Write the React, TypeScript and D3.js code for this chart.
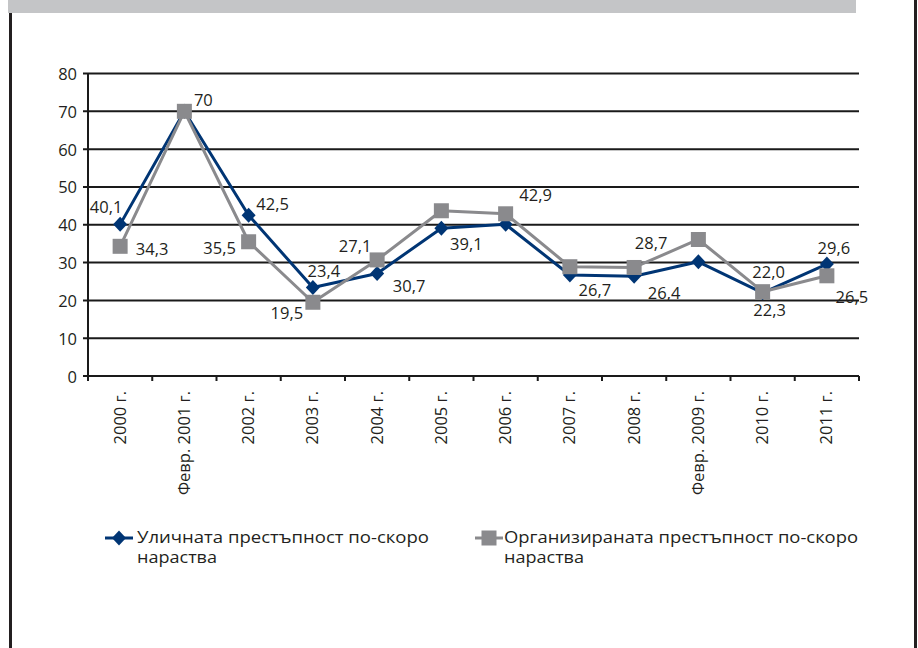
import React from "react";
import * as d3 from "d3";

const categories = [
  "2000 г.", "Февр. 2001 г.", "2002 г.", "2003 г.", "2004 г.", "2005 г.",
  "2006 г.", "2007 г.", "2008 г.", "Февр. 2009 г.", "2010 г.", "2011 г.",
];
const streetCrime = [40.1, 70, 42.5, 23.4, 27.1, 39.1, 40.1, 26.7, 26.4, 30.2, 22.0, 29.6];
const organizedCrime = [34.3, 70, 35.5, 19.5, 30.7, 43.7, 42.9, 28.9, 28.7, 36.1, 22.3, 26.5];
const streetLabels = ["40,1", "70", "42,5", "23,4", "27,1", "39,1", null, "26,7", "26,4", null, "22,0", "29,6"];
const organizedLabels = ["34,3", null, "35,5", "19,5", "30,7", null, "42,9", null, "28,7", null, "22,3", "26,5"];
const yTicks = [0, 10, 20, 30, 40, 50, 60, 70, 80];
const seriesNames = ["Уличната престъпност по-скоро", "Организираната престъпност по-скоро"];
const legendSecondLine = "нараства";

// label placement offsets (dx, dy) relative to the point
const streetLabelOffsets: [number, number][] = [
  [-14, -18], [19, -12], [24, -12], [11, -17], [-22, -28], [25, 15],
  [0, 0], [25, 14], [30, 16], [0, 0], [6, -21], [7, -17],
];
const organizedLabelOffsets: [number, number][] = [
  [32, 2], [0, 0], [-29, 6], [-26, 10], [32, 26], [0, 0],
  [30, -19], [0, 0], [17, -25], [0, 0], [7, 18], [25, 21],
];

const W = 918;
const H = 648;
const FONT = "'Open Sans', 'DejaVu Sans', sans-serif";
const TEXT = "#231f20";
const BLUE = "#003574";
const GRAY = "#8a8a8d";

export default function App() {
  const left = 88;
  const right = 859;
  const top = 73.5;
  const bottom = 376;

  const x = d3.scaleBand<string>().domain(categories).range([left, right]).padding(0);
  const y = d3.scaleLinear().domain([0, 80]).range([bottom, top]);
  const cx = (i: number) => (x(categories[i]) as number) + x.bandwidth() / 2;

  const line = d3
    .line<number>()
    .x((_, i) => cx(i))
    .y((d) => y(d));

  const boundaries = categories.map((c) => x(c) as number).concat([right]);

  const diamond = (px: number, py: number) =>
    `M${px},${py - 7.5} L${px + 7},${py} L${px},${py + 7.5} L${px - 7},${py} Z`;

  return (
    <svg
      width={W}
      height={H}
      style={{ position: "absolute", left: 0, top: 0, background: "#fff" }}
      fontFamily={FONT}
    >
      {/* frame */}
      <rect x={8} y={0} width={848} height={13} fill="#c4c5c7" />
      <line x1={10.5} y1={13} x2={10.5} y2={H} stroke="#231f20" strokeWidth={3} />
      <line x1={915.5} y1={0} x2={915.5} y2={H} stroke="#231f20" strokeWidth={3} />

      {/* gridlines */}
      {yTicks.map((t) => (
        <g key={t}>
          <line x1={left - 5} x2={right} y1={y(t)} y2={y(t)} stroke="#1a1a1a" strokeWidth={2} />
          <text
            x={77}
            y={y(t)}
            textAnchor="end"
            dominantBaseline="central"
            fontSize={16.5}
            fill={TEXT}
          >
            {t}
          </text>
        </g>
      ))}
      <line x1={left} x2={left} y1={top} y2={bottom} stroke="#1a1a1a" strokeWidth={2} />
      {boundaries.map((b, i) => (
        <line key={i} x1={b} x2={b} y1={bottom} y2={bottom + 5} stroke="#1a1a1a" strokeWidth={2} />
      ))}

      {/* x labels */}
      {categories.map((c, i) => (
        <text
          key={c}
          transform={`translate(${cx(i) - 1},${391}) rotate(-90)`}
          textAnchor="end"
          dominantBaseline="central"
          fontSize={16.5}
          fill={TEXT}
        >
          {c}
        </text>
      ))}

      {/* street crime series */}
      <path d={line(streetCrime) || ""} fill="none" stroke={BLUE} strokeWidth={3} strokeLinejoin="round" />
      {streetCrime.map((v, i) => (
        <path key={i} d={diamond(cx(i), y(v))} fill={BLUE} />
      ))}

      {/* organized crime series */}
      <path d={line(organizedCrime) || ""} fill="none" stroke={GRAY} strokeWidth={3} strokeLinejoin="round" />
      {organizedCrime.map((v, i) => (
        <rect key={i} x={cx(i) - 7.5} y={y(v) - 7.5} width={15} height={15} fill={GRAY} />
      ))}

      {/* data labels */}
      {streetCrime.map((v, i) =>
        streetLabels[i] ? (
          <text
            key={"s" + i}
            x={cx(i) + streetLabelOffsets[i][0]}
            y={y(v) + streetLabelOffsets[i][1]}
            textAnchor="middle"
            dominantBaseline="central"
            fontSize={16.5}
            fill={TEXT}
          >
            {streetLabels[i]}
          </text>
        ) : null
      )}
      {organizedCrime.map((v, i) =>
        organizedLabels[i] ? (
          <text
            key={"o" + i}
            x={cx(i) + organizedLabelOffsets[i][0]}
            y={y(v) + organizedLabelOffsets[i][1]}
            textAnchor="middle"
            dominantBaseline="central"
            fontSize={16.5}
            fill={TEXT}
          >
            {organizedLabels[i]}
          </text>
        ) : null
      )}

      {/* legend */}
      <g>
        <line x1={105} x2={133} y1={538} y2={538} stroke={BLUE} strokeWidth={3} />
        <path d={diamond(119, 538)} fill={BLUE} />
        <text x={137} y={543} fontSize={16} fill={TEXT} textLength={292} lengthAdjust="spacingAndGlyphs">
          {seriesNames[0]}
        </text>
        <text x={137} y={563} fontSize={16} fill={TEXT} textLength={80} lengthAdjust="spacingAndGlyphs">
          {legendSecondLine}
        </text>

        <line x1={475} x2={503} y1={538} y2={538} stroke={GRAY} strokeWidth={3} />
        <rect x={481.5} y={530.5} width={15} height={15} fill={GRAY} />
        <text x={504} y={543} fontSize={16} fill={TEXT} textLength={354} lengthAdjust="spacingAndGlyphs">
          {seriesNames[1]}
        </text>
        <text x={504} y={563} fontSize={16} fill={TEXT} textLength={80} lengthAdjust="spacingAndGlyphs">
          {legendSecondLine}
        </text>
      </g>
    </svg>
  );
}
